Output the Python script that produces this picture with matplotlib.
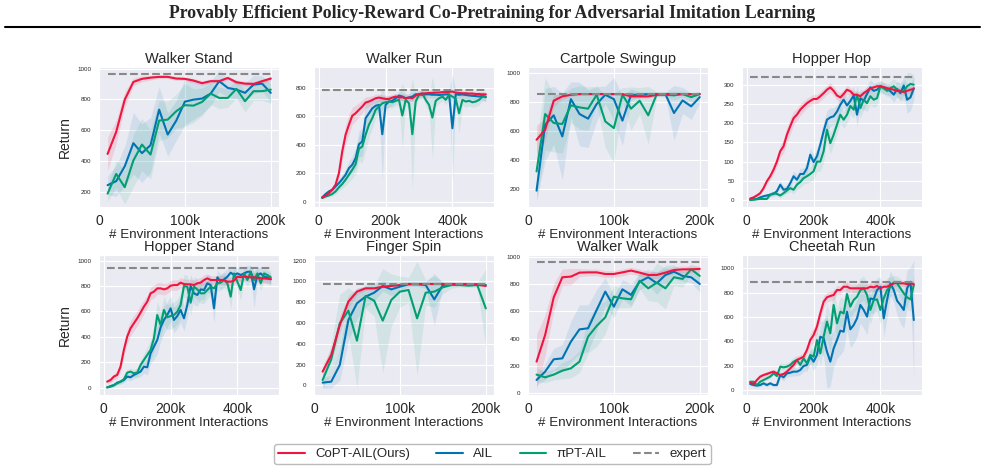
import numpy as np
import matplotlib.pyplot as plt
import seaborn as sns
from matplotlib.lines import Line2D
from matplotlib.ticker import FuncFormatter

sns.set_style('darkgrid')
plt.rcParams['font.family'] = ['Liberation Sans', 'DejaVu Sans']

steps_short = np.arange(10000, 200001, 10000)
steps_long = np.arange(10000, 500001, 10000)

labels = ['CoPT-AIL(Ours)', 'AIL', 'πPT-AIL', 'expert']
c_copt = '#EE1540'
c_ail = '#0173B2'
c_pipt = '#029E73'
c_expert = '#888888'

# Walker Stand
ws_copt = [445, 588, 798, 913, 933, 941, 946, 946, 935, 933, 922, 905, 918, 918, 939, 911, 902, 900, 918, 935]
ws_ail = [242, 268, 365, 515, 450, 502, 733, 571, 662, 785, 798, 805, 837, 918, 874, 863, 842, 896, 902, 842]
ws_pipt = [187, 315, 229, 402, 506, 441, 662, 668, 723, 762, 759, 783, 837, 809, 809, 868, 788, 853, 853, 863]
ws_copt_sd = [110, 75, 50, 25, 20, 15, 12, 12, 12, 12, 15, 15, 15, 15, 12, 15, 15, 15, 15, 15]
ws_ail_sd = [60, 100, 130, 200, 190, 180, 150, 140, 130, 150, 130, 100, 80, 70, 60, 60, 60, 60, 50, 60]
ws_pipt_sd = [50, 90, 110, 170, 170, 160, 130, 120, 110, 140, 110, 90, 70, 70, 60, 60, 70, 60, 60, 90]

# Walker Run
wr_copt = [30, 44, 60, 84, 119, 200, 352, 469, 539, 602, 620, 644, 667, 695, 702, 713, 725, 730, 725, 720,
           720, 730, 737, 730, 732, 725, 730, 725, 744, 753, 758, 760, 762, 762, 765, 765, 768, 768, 770, 772,
           765, 762, 760, 760, 758, 758, 755, 755, 752, 752]
wr_ail = [30, 54, 72, 84, 107, 130, 158, 189, 235, 259, 305, 403, 422, 585, 620, 655, 672, 679, 473, 679,
          702, 707, 725, 744, 737, 725, 730, 737, 753, 753, 749, 753, 753, 750, 750, 748, 750, 752, 753, 515,
          753, 750, 752, 748, 745, 742, 740, 738, 740, 735]
wr_pipt = [26, 37, 44, 54, 72, 100, 124, 154, 189, 224, 263, 371, 387, 469, 539, 585, 644, 667, 690, 697,
           702, 697, 707, 714, 604, 714, 690, 473, 702, 749, 760, 714, 679, 590, 707, 725, 737, 714, 749, 737,
           721, 620, 714, 702, 707, 697, 702, 714, 737, 732]
wr_copt_sd = [10, 12, 15, 20, 25, 40, 60, 70, 70, 60, 55, 50, 45, 40, 35, 30, 28, 25, 25, 25,
              25, 25, 22, 22, 22, 20, 20, 20, 20, 20, 20, 18, 18, 18, 18, 18, 18, 18, 18, 18,
              18, 18, 18, 18, 18, 18, 18, 18, 20, 20]
wr_ail_sd = [10, 12, 15, 18, 22, 28, 35, 40, 50, 60, 70, 90, 100, 110, 80, 60, 50, 45, 330, 50,
             40, 35, 30, 30, 30, 30, 30, 30, 25, 25, 25, 25, 25, 25, 25, 25, 25, 25, 30, 380,
             30, 25, 25, 25, 25, 25, 25, 25, 30, 30]
wr_pipt_sd = [8, 10, 12, 15, 20, 25, 30, 40, 50, 60, 70, 90, 110, 110, 90, 70, 60, 50, 45, 40,
              40, 40, 35, 35, 230, 40, 45, 390, 40, 30, 25, 40, 50, 290, 40, 35, 30, 35, 30, 30,
              40, 140, 40, 40, 35, 35, 35, 35, 30, 30]

# Cartpole Swingup
cs_copt = [541, 610, 811, 841, 852, 857, 857, 857, 857, 857, 857, 841, 841, 841, 852, 857, 857, 857, 857, 857]
cs_ail = [189, 645, 710, 564, 822, 719, 687, 788, 852, 822, 673, 852, 852, 857, 857, 857, 726, 813, 772, 836]
cs_pipt = [322, 719, 657, 650, 779, 765, 756, 852, 668, 622, 852, 756, 811, 710, 857, 852, 848, 857, 836, 857]
cs_copt_sd = [100, 80, 40, 20, 12, 10, 10, 10, 10, 10, 10, 12, 12, 12, 10, 10, 10, 10, 10, 10]
cs_ail_sd = [70, 250, 200, 300, 120, 220, 200, 120, 60, 150, 170, 40, 20, 15, 15, 15, 190, 90, 90, 40]
cs_pipt_sd = [190, 250, 200, 200, 120, 150, 150, 60, 180, 240, 50, 150, 90, 200, 15, 20, 30, 20, 30, 15]

# Hopper Hop
hh_copt = [4, 7, 12, 18, 31, 49, 62, 79, 100, 127, 140, 170, 192, 213, 222, 235, 244, 252, 258, 263,
           263, 270, 278, 287, 293, 284, 272, 267, 276, 287, 283, 274, 274, 270, 278, 284, 291, 293, 296, 296,
           294, 291, 289, 287, 284, 283, 281, 284, 287, 289]
hh_ail = [1, 2, 3, 7, 10, 12, 14, 16, 23, 40, 27, 29, 44, 62, 53, 68, 68, 83, 118, 99,
          114, 144, 179, 209, 215, 218, 230, 248, 261, 246, 258, 272, 222, 265, 258, 276, 293, 284, 287, 296,
          291, 289, 283, 274, 289, 278, 298, 261, 267, 291]
hh_pipt = [0, 1, 2, 3, 3, 3, 14, 18, 16, 12, 18, 25, 31, 27, 40, 47, 57, 62, 68, 75,
           100, 100, 127, 183, 148, 170, 196, 222, 209, 222, 245, 235, 274, 239, 261, 252, 270, 261, 265, 296,
           291, 284, 291, 296, 287, 284, 283, 296, 302, 300]
hh_copt_sd = [2, 3, 4, 5, 6, 8, 10, 12, 14, 16, 18, 20, 20, 18, 16, 15, 14, 13, 12, 12,
              12, 12, 12, 12, 12, 12, 12, 12, 12, 12, 10, 10, 10, 10, 10, 10, 8, 8, 8, 8,
              8, 8, 8, 8, 8, 8, 8, 8, 8, 8]
hh_ail_sd = [1, 1, 2, 3, 4, 5, 6, 7, 8, 10, 10, 10, 12, 14, 14, 15, 15, 16, 18, 18,
             20, 22, 25, 25, 25, 22, 20, 20, 20, 22, 22, 25, 30, 25, 25, 22, 20, 20, 20, 15,
             15, 15, 18, 20, 20, 22, 25, 35, 35, 30]
hh_pipt_sd = [1, 1, 1, 2, 2, 3, 5, 6, 6, 6, 7, 8, 9, 10, 12, 14, 15, 18, 20, 22,
              25, 25, 28, 30, 28, 25, 25, 22, 22, 22, 22, 22, 25, 25, 25, 22, 22, 20, 20, 15,
              15, 15, 18, 20, 20, 22, 25, 35, 30, 25]

# Hopper Stand
hs_copt = [47, 60, 87, 100, 165, 297, 402, 467, 507, 546, 591, 638, 677, 743, 756, 782, 782, 774, 782, 803,
           808, 808, 827, 816, 814, 814, 808, 822, 827, 848, 861, 848, 848, 848, 848, 848, 835, 835, 843, 874,
           870, 875, 872, 868, 870, 865, 862, 860, 858, 855]
hs_ail = [3, 8, 18, 39, 47, 60, 87, 81, 100, 113, 126, 165, 160, 270, 323, 375, 475, 533, 572, 625,
          533, 564, 612, 546, 651, 801, 743, 730, 774, 769, 822, 808, 625, 869, 835, 853, 874, 906, 887, 900,
          887, 900, 913, 913, 774, 887, 900, 874, 869, 853]
hs_pipt = [0, 13, 21, 34, 47, 66, 118, 126, 113, 118, 178, 218, 257, 297, 388, 572, 493, 612, 554, 564,
           572, 598, 651, 801, 795, 669, 795, 774, 743, 743, 769, 795, 782, 822, 827, 848, 822, 717, 900, 835,
           769, 900, 848, 913, 848, 900, 822, 900, 887, 869]
hs_copt_sd = [15, 20, 25, 30, 40, 50, 60, 60, 60, 60, 60, 55, 50, 50, 50, 45, 45, 45, 40, 40,
              40, 40, 40, 40, 40, 40, 40, 40, 40, 40, 35, 35, 35, 35, 35, 35, 35, 35, 35, 35,
              35, 35, 35, 35, 35, 35, 35, 35, 35, 35]
hs_ail_sd = [5, 8, 12, 15, 18, 20, 25, 28, 30, 35, 40, 50, 60, 80, 100, 110, 110, 110, 100, 100,
             100, 100, 100, 100, 100, 90, 90, 90, 80, 80, 70, 70, 120, 60, 60, 60, 60, 50, 50, 50,
             50, 50, 50, 50, 150, 50, 50, 50, 50, 50]
hs_pipt_sd = [5, 8, 12, 15, 18, 20, 25, 28, 30, 35, 40, 50, 60, 80, 100, 110, 110, 110, 100, 100,
              100, 100, 100, 90, 90, 100, 80, 80, 80, 80, 70, 70, 70, 60, 60, 60, 60, 100, 50, 60,
              80, 50, 60, 50, 60, 50, 60, 50, 50, 50]

# Finger Spin
fs_copt = [132, 292, 581, 806, 902, 934, 934, 950, 957, 966, 976, 976, 976, 976, 976, 976, 976, 976, 970, 957]
fs_ail = [26, 35, 196, 629, 790, 854, 892, 957, 924, 950, 973, 973, 966, 828, 966, 973, 973, 973, 973, 966]
fs_pipt = [51, 250, 597, 719, 430, 860, 815, 623, 822, 902, 918, 645, 892, 902, 944, 966, 966, 960, 966, 741]
fs_copt_sd = [60, 60, 80, 60, 30, 20, 15, 15, 12, 10, 10, 10, 10, 10, 10, 10, 10, 10, 10, 10]
fs_ail_sd = [50, 60, 150, 200, 150, 100, 80, 50, 60, 40, 20, 20, 30, 250, 20, 15, 15, 15, 15, 15]
fs_pipt_sd = [70, 150, 280, 220, 450, 120, 150, 500, 250, 150, 120, 550, 120, 150, 60, 30, 20, 20, 20, 380]

# Walker Walk
ww_copt = [232, 427, 702, 849, 854, 883, 885, 885, 873, 873, 885, 898, 883, 866, 866, 883, 902, 907, 907, 910]
ww_ail = [98, 159, 249, 256, 378, 468, 476, 610, 744, 634, 761, 720, 817, 849, 805, 866, 890, 859, 849, 800]
ww_pipt = [137, 117, 137, 166, 183, 232, 415, 493, 556, 707, 695, 688, 824, 768, 810, 768, 849, 837, 907, 859]
ww_copt_sd = [200, 150, 100, 60, 60, 30, 25, 25, 25, 25, 25, 25, 25, 25, 25, 25, 25, 25, 25, 25]
ww_ail_sd = [40, 60, 80, 100, 150, 180, 170, 150, 100, 80, 70, 80, 60, 60, 80, 70, 50, 40, 40, 60]
ww_pipt_sd = [50, 40, 40, 60, 70, 80, 120, 150, 120, 80, 70, 60, 60, 90, 140, 150, 60, 60, 40, 60]

# Cheetah Run
cr_copt = [60, 49, 82, 110, 123, 132, 142, 151, 137, 123, 132, 151, 178, 206, 247, 260, 274, 329, 411, 452,
           521, 630, 726, 762, 773, 781, 822, 822, 849, 849, 836, 836, 836, 836, 836, 836, 849, 844, 855, 836,
           849, 849, 863, 877, 882, 877, 877, 871, 877, 871]
cr_ail = [49, 41, 36, 41, 55, 41, 55, 41, 41, 123, 104, 137, 142, 151, 151, 164, 197, 206, 274, 233,
          288, 438, 425, 315, 233, 342, 411, 488, 479, 644, 499, 534, 589, 699, 658, 603, 753, 745, 822, 849,
          589, 740, 877, 822, 734, 699, 658, 836, 890, 575]
cr_pipt = [68, 68, 41, 68, 82, 96, 110, 137, 115, 192, 186, 192, 206, 233, 247, 206, 260, 219, 288, 274,
           411, 301, 438, 562, 466, 699, 548, 644, 630, 789, 685, 740, 767, 822, 836, 781, 658, 740, 745, 658,
           753, 822, 849, 882, 877, 836, 795, 762, 745, 863]
cr_copt_sd = [15, 15, 15, 20, 20, 20, 20, 20, 20, 20, 20, 25, 25, 30, 30, 30, 35, 40, 50, 60,
              60, 60, 50, 40, 40, 40, 35, 35, 35, 35, 35, 35, 35, 35, 35, 35, 35, 35, 35, 40,
              30, 30, 30, 30, 25, 25, 25, 25, 25, 25]
cr_ail_sd = [15, 15, 15, 15, 15, 15, 15, 15, 15, 30, 30, 30, 30, 35, 35, 40, 45, 50, 60, 70,
             80, 120, 150, 300, 200, 150, 150, 200, 150, 150, 150, 150, 150, 150, 150, 150, 120, 120, 100, 80,
             150, 150, 100, 100, 120, 150, 150, 150, 120, 490]
cr_pipt_sd = [15, 15, 15, 15, 15, 15, 15, 15, 15, 30, 30, 30, 30, 35, 35, 40, 45, 50, 60, 70,
              80, 100, 120, 150, 150, 150, 120, 120, 120, 120, 100, 100, 100, 100, 100, 100, 120, 100, 100, 120,
              100, 100, 80, 60, 60, 80, 80, 100, 100, 80]

expert = {'Walker Stand': 967, 'Walker Run': 785, 'Cartpole Swingup': 857, 'Hopper Hop': 320,
          'Hopper Stand': 940, 'Finger Spin': 980, 'Walker Walk': 963, 'Cheetah Run': 892}

tasks = [
    ('Walker Stand', steps_short, (ws_copt, ws_copt_sd), (ws_ail, ws_ail_sd), (ws_pipt, ws_pipt_sd), (100, 1010)),
    ('Walker Run', steps_long, (wr_copt, wr_copt_sd), (wr_ail, wr_ail_sd), (wr_pipt, wr_pipt_sd), (-37, 944)),
    ('Cartpole Swingup', steps_short, (cs_copt, cs_copt_sd), (cs_ail, cs_ail_sd), (cs_pipt, cs_pipt_sd), (76, 1044)),
    ('Hopper Hop', steps_long, (hh_copt, hh_copt_sd), (hh_ail, hh_ail_sd), (hh_pipt, hh_pipt_sd), (-18, 346)),
    ('Hopper Stand', steps_long, (hs_copt, hs_copt_sd), (hs_ail, hs_ail_sd), (hs_pipt, hs_pipt_sd), (-58, 1045)),
    ('Finger Spin', steps_short, (fs_copt, fs_copt_sd), (fs_ail, fs_ail_sd), (fs_pipt, fs_pipt_sd), (-93, 1255)),
    ('Walker Walk', steps_short, (ww_copt, ww_copt_sd), (ww_ail, ww_ail_sd), (ww_pipt, ww_pipt_sd), (-12, 1012)),
    ('Cheetah Run', steps_long, (cr_copt, cr_copt_sd), (cr_ail, cr_ail_sd), (cr_pipt, cr_pipt_sd), (-41, 1110)),
]

fig = plt.figure(figsize=(9.85, 4.76), dpi=100)

lefts = [0.1005, 0.3188, 0.5360, 0.7533]
bottoms = [0.5651, 0.1702]
w, h = 0.1827, 0.2941

kfmt = FuncFormatter(lambda v, p: '0' if v == 0 else f'{int(v / 1000)}k')

for k, (name, steps, copt, ail, pipt, ylim) in enumerate(tasks):
    ax = fig.add_axes([lefts[k % 4], bottoms[k // 4], w, h])
    for (mean, sd), col, a in [(ail, c_ail, 0.1), (pipt, c_pipt, 0.1), (copt, c_copt, 0.12)]:
        mean = np.array(mean, dtype=float)
        sd = np.array(sd, dtype=float)
        ax.fill_between(steps, mean - sd, mean + sd, color=col, alpha=a, lw=0)
    ax.plot(steps, ail[0], color=c_ail, lw=1.5)
    ax.plot(steps, pipt[0], color=c_pipt, lw=1.5)
    ax.plot(steps, copt[0], color=c_copt, lw=1.5)
    ax.plot(steps, [expert[name]] * len(steps), color=c_expert, lw=1.5, ls='--')
    ax.set_ylim(*ylim)
    if steps[-1] > 300000:
        ax.set_xticks([0, 200000, 400000])
    else:
        ax.set_xticks([0, 100000, 200000])
    ax.xaxis.set_major_formatter(kfmt)
    ax.tick_params(axis='x', labelsize=10, pad=1.5)
    ax.tick_params(axis='y', labelsize=4.5, pad=2)
    ax.set_title(name, fontsize=10.5, pad=3)
    ax.set_xlabel('# Environment Interactions', fontsize=9.6, labelpad=0.5)
    if k % 4 == 0:
        ax.set_ylabel('Return', fontsize=10)

fig.text(0.5, 0.971, 'Provably Efficient Policy-Reward Co-Pretraining for Adversarial Imitation Learning',
         ha='center', va='center', family='Liberation Serif', weight='bold', fontsize=12.8)
fig.add_artist(Line2D([0.005, 0.995], [0.944, 0.944], transform=fig.transFigure, color='black', lw=1.5))

handles = [Line2D([], [], color=c_copt, lw=1.5), Line2D([], [], color=c_ail, lw=1.5),
           Line2D([], [], color=c_pipt, lw=1.5), Line2D([], [], color=c_expert, lw=1.5, ls='--')]
fig.legend(handles, labels, loc='center', bbox_to_anchor=(0.5, 0.046), ncol=4, fontsize=9.5,
           frameon=True, facecolor='white', edgecolor='#bbbbbb', framealpha=1, borderpad=0.3)

fig.savefig('out.png', dpi=100)
